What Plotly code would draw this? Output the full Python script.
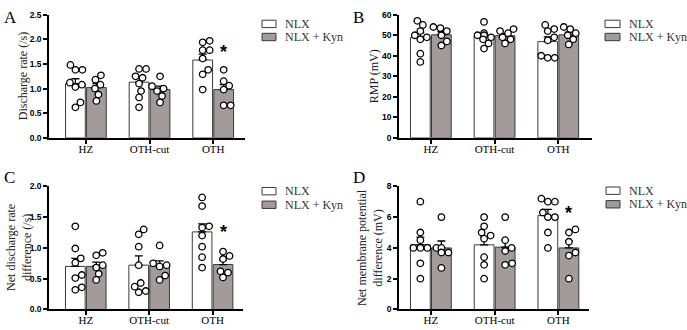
import numpy as np
import plotly.graph_objects as go

W, H = 687, 330

categories = ["HZ", "OTH-cut", "OTH"]
series_names = ["NLX", "NLX + Kyn"]

# Panel A: Discharge rate (/s)
A_nlx_pts = [[1.48, 1.38, 1.38, 1.12, 1.08, 1.03, 0.72, 0.62],
             [1.40, 1.40, 1.25, 1.22, 1.10, 0.95, 0.82, 0.62],
             [1.97, 1.94, 1.78, 1.78, 1.61, 1.38, 1.29, 0.98]]
A_kyn_pts = [[1.27, 1.18, 1.08, 1.00, 0.88, 0.75],
             [1.25, 1.05, 1.00, 0.95, 0.85, 0.72],
             [1.38, 1.15, 1.06, 0.98, 0.66, 0.66]]
A_nlx_mean = [1.10, 1.13, 1.58]
A_nlx_sem = [0.10, 0.10, 0.12]
A_kyn_mean = [1.02, 0.98, 0.98]
A_kyn_sem = [0.08, 0.07, 0.10]

# Panel B: RMP (mV)
B_nlx_pts = [[57, 55, 52, 50, 49, 48, 41, 37],
             [56.5, 51, 50, 50, 49, 48, 46, 43.5],
             [55, 53, 52, 49, 47.5, 40, 39, 39]]
B_kyn_pts = [[54, 53.5, 52, 50, 47, 45],
             [53, 52, 51, 49, 48, 46],
             [54, 53, 51, 50, 48, 45.5]]
B_nlx_mean = [48.8, 49.3, 46.9]
B_nlx_sem = [2.3, 1.4, 2.3]
B_kyn_mean = [50.2, 49.8, 50.2]
B_kyn_sem = [1.5, 1.1, 1.3]

# Panel C: Net discharge rate difference (/s)
C_nlx_pts = [[1.35, 0.99, 0.83, 0.76, 0.56, 0.51, 0.36, 0.32],
             [1.30, 1.22, 1.02, 0.72, 0.43, 0.37, 0.30, 0.28],
             [1.82, 1.68, 1.35, 1.33, 1.20, 1.02, 0.85, 0.68]]
C_kyn_pts = [[0.92, 0.88, 0.72, 0.68, 0.58, 0.48],
             [1.04, 0.75, 0.72, 0.70, 0.55, 0.48],
             [0.94, 0.87, 0.82, 0.62, 0.60, 0.52]]
C_nlx_mean = [0.70, 0.72, 1.26]
C_nlx_sem = [0.13, 0.15, 0.13]
C_kyn_mean = [0.70, 0.71, 0.73]
C_kyn_sem = [0.07, 0.08, 0.07]

# Panel D: Net membrane potential difference (mV)
D_nlx_pts = [[7, 5, 4.5, 4, 4, 4, 3, 2],
             [6, 5.4, 5, 4.8, 4.6, 3.4, 2.9, 2],
             [7.2, 7, 7, 6.3, 6, 6, 5, 4]]
D_kyn_pts = [[6, 4, 4, 3.7, 3.7, 2.7],
             [6, 4.5, 4, 3.8, 3, 2.9],
             [5.2, 5, 4.4, 3.7, 3.5, 2]]
D_nlx_mean = [4.2, 4.2, 6.1]
D_nlx_sem = [0.5, 0.5, 0.4]
D_kyn_mean = [4.0, 4.05, 4.0]
D_kyn_sem = [0.45, 0.45, 0.45]

# significance marker (on OTH, NLX + Kyn)
star_y = {"A": 1.74, "B": None, "C": 1.26, "D": 6.3}

panels = {
    "A": dict(nlx=(A_nlx_pts, A_nlx_mean, A_nlx_sem), kyn=(A_kyn_pts, A_kyn_mean, A_kyn_sem),
              title="Discharge rate (/s)", yr=[0, 2.5], dt=0.5, fmt=".1f",
              xdom=[49, 245], ydom=[10, 137], xr=[-0.58, 2.5], ax="",
              leg=(262, 276, 283, 19.5, 33), title_x=23, letter=(2, 1)),
    "B": dict(nlx=(B_nlx_pts, B_nlx_mean, B_nlx_sem), kyn=(B_kyn_pts, B_kyn_mean, B_kyn_sem),
              title="RMP (mV)", yr=[0, 60], dt=10, fmt="d",
              xdom=[399, 592], ydom=[10, 137], xr=[-0.5, 2.53], ax="2",
              leg=(605, 620, 627, 19.5, 33), title_x=374, letter=(351, 1)),
    "C": dict(nlx=(C_nlx_pts, C_nlx_mean, C_nlx_sem), kyn=(C_kyn_pts, C_kyn_mean, C_kyn_sem),
              title="Net discharge rate<br>difference (/s)", yr=[0, 2.0], dt=0.5, fmt=".1f",
              xdom=[49, 243], ydom=[187, 314], xr=[-0.58, 2.48], ax="3",
              leg=(262, 276, 283, 192, 206), title_x=19, letter=(2, 166)),
    "D": dict(nlx=(D_nlx_pts, D_nlx_mean, D_nlx_sem), kyn=(D_kyn_pts, D_kyn_mean, D_kyn_sem),
              title="Net membrane potential<br>difference (mV)", yr=[0, 8], dt=2, fmt="d",
              xdom=[399, 589], ydom=[187, 314], xr=[-0.5, 2.48], ax="4",
              leg=(606, 620, 627, 191.5, 205.5), title_x=370, letter=(351, 166)),
}

BAR_OFF = 0.165
BAR_W = 0.31
KYN_COLOR = "#a39a9a"
SERIF = "Liberation Serif, Times New Roman, serif"
SANS = "Liberation Sans, Arial, sans-serif"


def swarm(vals, ppy, ppx, d=6.8, maxoff=9.0):
    """Simple beeswarm: horizontal offsets (in x units) so circles don't overlap."""
    order = sorted(range(len(vals)), key=lambda i: vals[i])
    placed = []
    offs = [0.0] * len(vals)
    cands = [0.0]
    for k in range(1, 40):
        cands += [k * 0.5, -k * 0.5]
    for i in order:
        yp = vals[i] * ppy
        best = None
        for c in cands:
            if abs(c) > maxoff:
                continue
            if all((c - px) ** 2 + (yp - py) ** 2 >= d * d for px, py in placed):
                best = c
                break
        if best is None:
            best = 0.0
        placed.append((best, yp))
        offs[i] = best / ppx
    return offs


fig = go.Figure()
layout = dict(width=W, height=H, margin=dict(l=0, r=0, t=0, b=0),
              paper_bgcolor="white", plot_bgcolor="white", barmode="overlay",
              showlegend=False)
annotations = []
shapes = []
idx = np.arange(len(categories))
fills = ["white", KYN_COLOR]

for key, p in panels.items():
    ax = p["ax"]
    xref, yref = "x" + ax, "y" + ax
    ppx = (p["xdom"][1] - p["xdom"][0]) / (p["xr"][1] - p["xr"][0])
    ppy = (p["ydom"][1] - p["ydom"][0]) / (p["yr"][1] - p["yr"][0])

    for s, (sk, off) in enumerate([("nlx", -BAR_OFF), ("kyn", BAR_OFF)]):
        pts, mean, sem = p[sk]
        fig.add_trace(go.Bar(
            x=idx + off, y=mean, width=BAR_W, name=series_names[s],
            marker=dict(color=fills[s], line=dict(color="#3a3a3a", width=1)),
            error_y=dict(type="data", symmetric=False, array=sem, arrayminus=[0] * len(sem),
                         color="black", thickness=1.3, width=4),
            xaxis=xref, yaxis=yref, hoverinfo="skip"))
        xs, ys = [], []
        for g, vals in enumerate(pts):
            o = swarm(vals, ppy, ppx)
            xs += [g + off + oo for oo in o]
            ys += list(vals)
        fig.add_trace(go.Scatter(
            x=xs, y=ys, mode="markers", hoverinfo="skip",
            marker=dict(size=6.5, color="white", line=dict(color="black", width=1.3)),
            xaxis=xref, yaxis=yref))

    xd = [p["xdom"][0] / W, p["xdom"][1] / W]
    yd = [1 - p["ydom"][1] / H, 1 - p["ydom"][0] / H]
    layout["xaxis" + ax] = dict(
        domain=xd, range=p["xr"], anchor=yref, tickvals=list(idx), ticktext=categories,
        showline=True, linecolor="black", linewidth=1.5, ticks="outside", ticklen=4,
        tickwidth=1.5, tickcolor="black", showgrid=False, zeroline=False,
        ticklabelstandoff=-4,
        tickfont=dict(family=SERIF, size=11, color="black"))
    layout["yaxis" + ax] = dict(
        domain=yd, range=p["yr"], anchor=xref, dtick=p["dt"], tick0=0, tickformat=p["fmt"],
        showline=True, linecolor="black", linewidth=1.5, ticks="outside", ticklen=4,
        tickwidth=1.5, tickcolor="black", showgrid=False, zeroline=False,
        tickfont=dict(family=SANS, size=8.5, color="black", weight="bold"))

    # legend (boxes + labels)
    bx0, bx1, tx, r1, r2 = p["leg"]
    for s, ry in enumerate([r1, r2]):
        shapes.append(dict(type="rect", xref="paper", yref="paper",
                           x0=bx0 / W, x1=bx1 / W, y0=1 - (ry + 3.8) / H, y1=1 - (ry - 3.8) / H,
                           fillcolor=fills[s], line=dict(color="#3a3a3a", width=1)))
        annotations.append(dict(text=series_names[s], xref="paper", yref="paper",
                                x=tx / W, y=1 - ry / H, xanchor="left", yanchor="middle",
                                showarrow=False,
                                font=dict(family=SERIF, size=12, color="#333")))

    # y-axis title
    annotations.append(dict(
        text=p["title"], xref="paper", yref="paper", x=p["title_x"] / W,
        y=1 - (p["ydom"][0] + p["ydom"][1]) / 2 / H, textangle=-90, showarrow=False,
        xanchor="center", yanchor="middle", font=dict(family=SERIF, size=12, color="#222")))
    # panel letter
    annotations.append(dict(
        text=key, xref="paper", yref="paper", x=p["letter"][0] / W, y=1 - p["letter"][1] / H,
        xanchor="left", yanchor="top", showarrow=False,
        font=dict(family=SERIF, size=17, color="black")))
    # significance star
    if star_y[key] is not None:
        annotations.append(dict(
            text="<b>*</b>", xref=xref, yref=yref, x=2 + BAR_OFF, y=star_y[key], showarrow=False,
            xanchor="center", yanchor="middle", font=dict(family=SANS, size=18, color="black")))

layout["annotations"] = annotations
layout["shapes"] = shapes
fig.update_layout(**layout)
fig.write_html("out.html")
